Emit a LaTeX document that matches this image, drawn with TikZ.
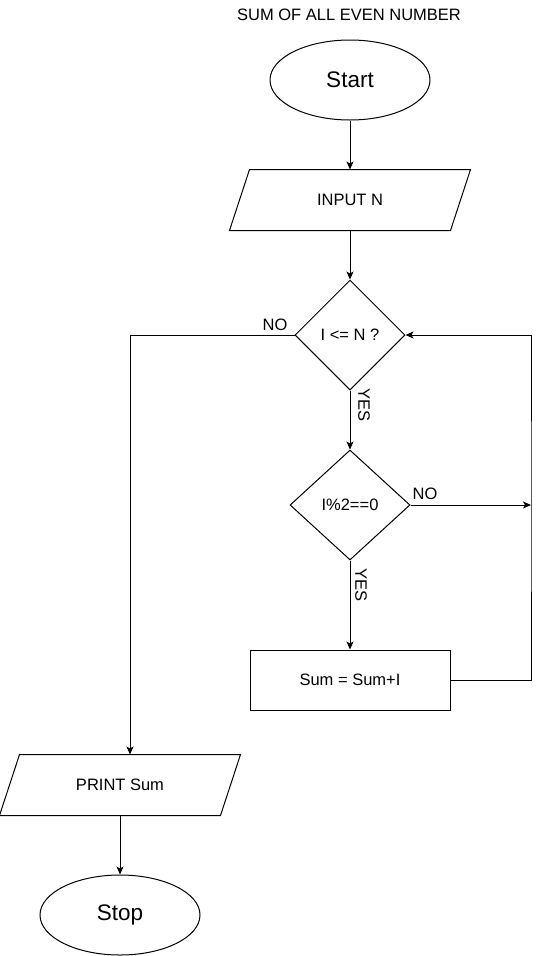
\documentclass[tikz,border=0pt]{standalone}
\usepackage{fontspec}
\setmainfont{Liberation Sans}
\usetikzlibrary{shapes.geometric,arrows.meta}
\begin{document}
\begin{tikzpicture}[x=1pt,y=-1pt,
  line width=1pt,
  every node/.style={font=\fontsize{16.5}{19}\selectfont},
  arr/.style={-{Stealth[length=8pt,width=7pt,inset=2pt]}},
  terminal/.style={ellipse,draw,minimum width=160pt,minimum height=80pt,inner sep=0pt,font=\fontsize{22.5}{26}\selectfont},
  iobox/.style={draw=none,minimum width=220pt,minimum height=60pt,inner sep=0pt},
  decision/.style={diamond,draw,inner sep=0pt},
  process/.style={rectangle,draw,minimum width=200pt,minimum height=60pt,inner sep=0pt},
  lbl/.style={inner sep=0pt}]
\useasboundingbox (0,0) rectangle (541,956);

% title
\node[lbl] (title) at (349,15) {SUM OF ALL EVEN NUMBER};

% nodes
\node[terminal] (start) at (350,80) {Start};
\node[iobox] (input) at (350,200) {INPUT N};
\draw ([xshift=10pt]input.north west) -- ([xshift=10pt]input.north east)
      -- ([xshift=-10pt]input.south east) -- ([xshift=-10pt]input.south west) -- cycle;
\node[decision,minimum width=110pt,minimum height=110pt] (cond) at (350,335) {I <= N ?};
\node[decision,minimum width=120pt,minimum height=110pt] (even) at (350,505) {I\%2==0};
\node[process] (sum) at (350,680) {Sum = Sum+I};
\node[iobox] (print) at (120,785) {PRINT Sum};
\draw ([xshift=10pt]print.north west) -- ([xshift=10pt]print.north east)
      -- ([xshift=-10pt]print.south east) -- ([xshift=-10pt]print.south west) -- cycle;
\node[terminal] (stop) at (120,915) {Stop};

% helper points
\coordinate (rail) at (531,505);
\coordinate (printin) at ([xshift=10pt]print.north);

% connectors
\draw[arr] (start.south) -- (input.north);
\draw[arr] (input.south) -- (cond.north);
\draw[arr] (cond.west) -| (printin);
\draw[arr] (cond.south) -- (even.north);
\draw[arr] (even.east) -- (rail);
\draw[arr] (even.south) -- (sum.north);
\draw[arr] (sum.east) -| (rail) |- (cond.east);
\draw[arr] (print.south) -- (stop.north);

% labels
\node[lbl] (no1) at (275,325) {NO};
\node[lbl,rotate=-90] (yes1) at (364,405) {YES};
\node[lbl] (no2) at (425,494) {NO};
\node[lbl,rotate=-90] (yes2) at (361,585) {YES};
\end{tikzpicture}
\end{document}
